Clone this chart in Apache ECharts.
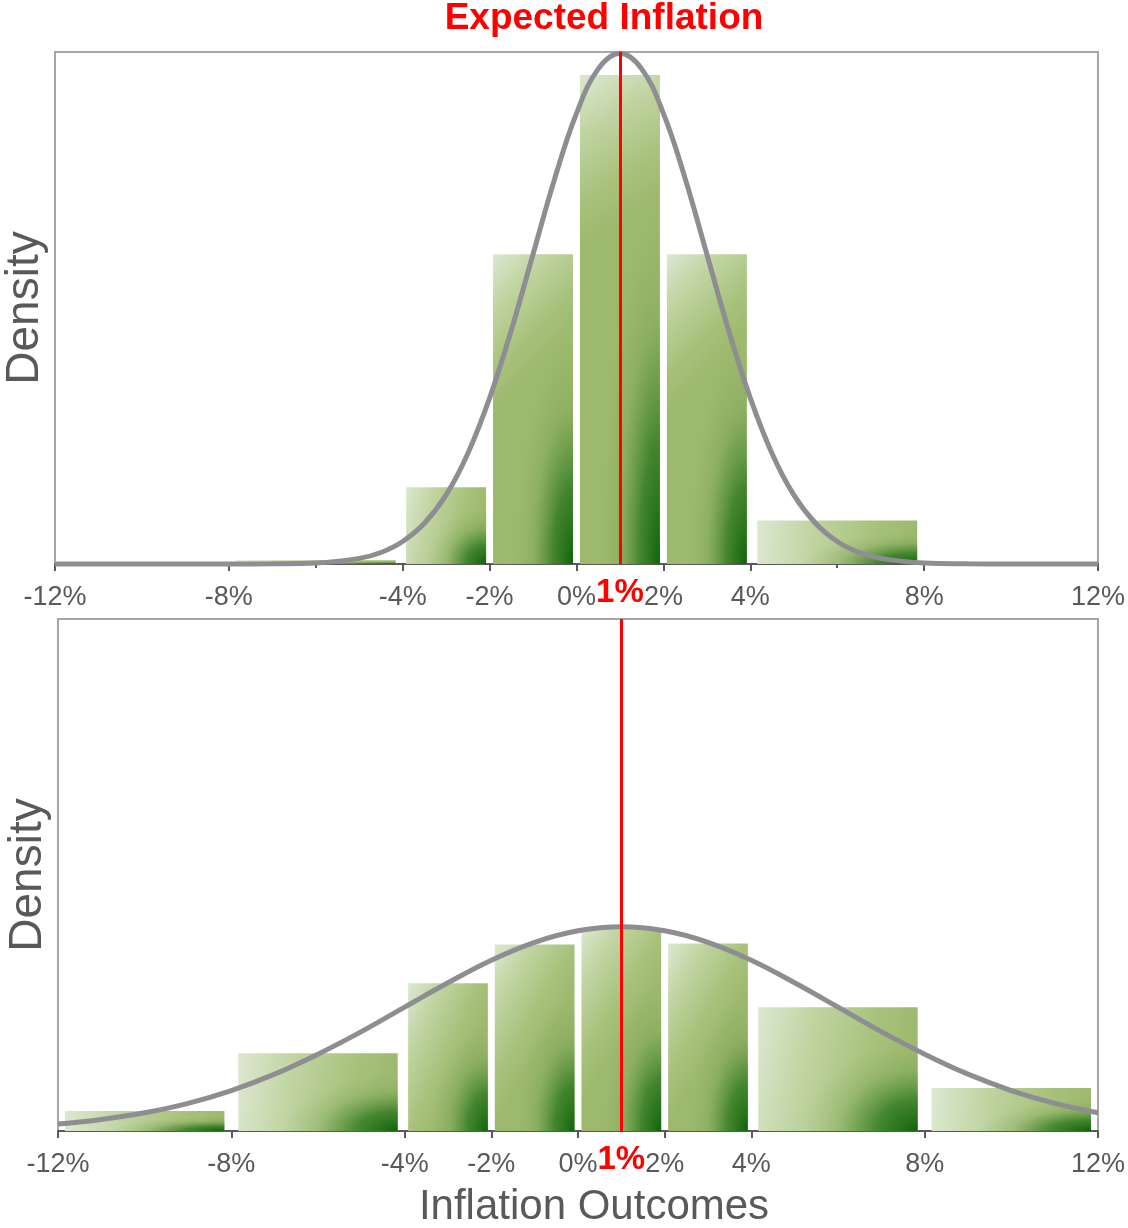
<!DOCTYPE html>
<html>
<head>
<meta charset="utf-8">
<script src="https://cdn.jsdelivr.net/npm/echarts@6/dist/echarts.min.js"></script>
<style>
  html, body { margin: 0; padding: 0; background: #ffffff; }
  #chart { width: 1128px; height: 1228px; }
</style>
</head>
<body>
<div id="chart"></div>
<script>
// Histogram bins (inflation outcome, %)
const binLower = [-12, -8, -4, -2, 0, 2, 4, 8];
const binUpper = [-8, -4, -2, 0, 2, 4, 8, 12];

// Bar densities for the tight (upper) and wide (lower) outcome distributions
const narrowDensity = [0, 0.0015, 0.030, 0.121, 0.191, 0.121, 0.017, 0];
const wideDensity = [0.0078, 0.0304, 0.0577, 0.0729, 0.0793, 0.0732, 0.0483, 0.0168];

// Density curves drawn over the bars
const narrowCurveX = [-12, -10, -8, -7, -6, -5, -4.5, -4, -3.5, -3, -2.5, -2, -1.5, -1, -0.5, 0, 0.5, 1,
                      1.5, 2, 2.5, 3, 3.5, 4, 4.5, 5, 5.5, 6, 6.5, 7, 8, 9, 10, 12];
const narrowCurveY = [0, 0, 0, 0.0001, 0.0004, 0.0022, 0.0045, 0.0088, 0.0159, 0.0270, 0.0432, 0.0648, 0.0913, 0.1210, 0.1506, 0.1760, 0.1934, 0.1995,
                      0.1934, 0.1760, 0.1506, 0.1210, 0.0913, 0.0648, 0.0432, 0.0270, 0.0159, 0.0088, 0.0045, 0.0022, 0.0004, 0.0001, 0, 0];
const wideCurveX = [-12, -11, -10, -9, -8, -7, -6, -5, -4, -3, -2, -1, 0, 1, 2, 3, 4, 5, 6, 7, 8, 9, 10, 11, 12];
const wideCurveY = [0.0027, 0.0045, 0.0071, 0.0108, 0.0158, 0.0222, 0.0300, 0.0388, 0.0484, 0.0579, 0.0667, 0.0737, 0.0782, 0.0798,
                    0.0782, 0.0737, 0.0667, 0.0579, 0.0484, 0.0388, 0.0300, 0.0222, 0.0158, 0.0108, 0.0071];

// Axis ticks
const tickValues = [-12, -8, -4, -2, 0, 2, 4, 8, 12];
const upperMinorTicks = [-6, 6];

// Expected inflation (%)
const expected = 1;

const FONT = '"Liberation Sans", Arial, Helvetica, sans-serif';
const AXIS_GREY = '#595959';
const CURVE_GREY = '#8e8e92';

function barItem(params, api) {
  const d = api.value(2);
  if (!(d > 0)) return null;
  const topLeft = api.coord([api.value(0), d]);
  const bottomRight = api.coord([api.value(1), 0]);
  const inset = (bottomRight[0] - topLeft[0]) * 0.04;
  const x = topLeft[0] + inset;
  const w = bottomRight[0] - topLeft[0] - 2 * inset;
  const y = topLeft[1];
  const h = bottomRight[1] - topLeft[1];
  return {
    type: 'group',
    children: [
      {
        type: 'rect',
        shape: { x: x, y: y, width: w, height: h },
        style: {
          fill: new echarts.graphic.LinearGradient(0, 0, 1, 0.25, [
            { offset: 0, color: '#dce8d0' },
            { offset: 0.35, color: '#c0d4a1' },
            { offset: 0.75, color: '#a7c17a' },
            { offset: 1, color: '#9db96d' }
          ])
        }
      },
      {
        // dark green shading gathered in the lower-right corner
        type: 'rect',
        x: x, y: y, scaleX: w, scaleY: h,
        shape: { x: 0, y: 0, width: 1, height: 1 },
        style: {
          fill: new echarts.graphic.RadialGradient(1, 1, 0.72, [
            { offset: 0, color: 'rgba(16,100,10,1)' },
            { offset: 0.35, color: 'rgba(38,116,26,0.75)' },
            { offset: 0.7, color: 'rgba(80,140,50,0.2)' },
            { offset: 1, color: 'rgba(110,150,70,0)' }
          ])
        }
      }
    ]
  };
}

function xAxisFor(gridIndex, ticks) {
  return {
    gridIndex: gridIndex, type: 'value', min: -12, max: 12, position: 'bottom',
    axisLine: { show: true, onZero: false, lineStyle: { color: AXIS_GREY, width: 2 } },
    axisTick: { show: true, customValues: ticks, length: 7, lineStyle: { color: AXIS_GREY, width: 2 } },
    axisLabel: {
      customValues: tickValues, formatter: v => v + '%',
      color: AXIS_GREY, fontSize: 27, fontFamily: FONT, margin: 20
    },
    splitLine: { show: false }
  };
}

function markFor() {
  return {
    silent: true, symbol: ['none', 'none'], animation: false,
    lineStyle: { color: '#ff0000', width: 3, type: 'solid' },
    label: {
      show: true, position: 'start', distance: 12, formatter: expected + '%',
      color: '#ff0000', fontWeight: 'bold', fontSize: 33, fontFamily: FONT
    },
    emphasis: { disabled: true },
    data: [{ xAxis: expected }]
  };
}

const chart = echarts.init(document.getElementById('chart'), null, { renderer: 'canvas' });

chart.setOption({
  animation: false,
  backgroundColor: '#ffffff',
  grid: [
    { left: 55, right: 30, top: 52, height: 512, show: true, borderColor: '#a6a6a6', borderWidth: 2 },
    { left: 58, right: 26, top: 619, height: 512, show: true, borderColor: '#a6a6a6', borderWidth: 2 }
  ],
  xAxis: [
    xAxisFor(0, tickValues),
    xAxisFor(1, tickValues),
    {
      gridIndex: 0, type: 'value', min: -12, max: 12, position: 'bottom',
      axisLine: { show: false },
      axisTick: { show: true, customValues: upperMinorTicks, length: 4, lineStyle: { color: AXIS_GREY, width: 2 } },
      axisLabel: { show: false },
      splitLine: { show: false }
    }
  ],
  yAxis: [
    { gridIndex: 0, type: 'value', min: 0, max: 0.2, show: false },
    { gridIndex: 1, type: 'value', min: 0, max: 0.2, show: false }
  ],
  series: [
    {
      type: 'custom', xAxisIndex: 0, yAxisIndex: 0,
      renderItem: barItem, encode: { x: [0, 1], y: 2 },
      data: binLower.map((lo, i) => [lo, binUpper[i], narrowDensity[i]])
    },
    {
      type: 'line', xAxisIndex: 0, yAxisIndex: 0, z: 3,
      smooth: 0.4, showSymbol: false, clip: false,
      lineStyle: { color: CURVE_GREY, width: 5 },
      data: narrowCurveX.map((x, i) => [x, narrowCurveY[i]]),
      markLine: markFor()
    },
    {
      type: 'custom', xAxisIndex: 1, yAxisIndex: 1,
      renderItem: barItem, encode: { x: [0, 1], y: 2 },
      data: binLower.map((lo, i) => [lo, binUpper[i], wideDensity[i]])
    },
    {
      type: 'line', xAxisIndex: 1, yAxisIndex: 1, z: 3,
      smooth: 0.4, showSymbol: false, clip: false,
      lineStyle: { color: CURVE_GREY, width: 5 },
      data: wideCurveX.map((x, i) => [x, wideCurveY[i]]),
      markLine: markFor()
    }
  ],
  graphic: [
    {
      type: 'text', x: 604, y: 19,
      style: { text: 'Expected Inflation', font: 'bold 37px ' + FONT, fill: '#ff0000', textAlign: 'center', textVerticalAlign: 'middle' }
    },
    {
      type: 'text', x: 25, y: 308, rotation: Math.PI / 2,
      style: { text: 'Density', font: '46px ' + FONT, fill: AXIS_GREY, textAlign: 'center', textVerticalAlign: 'middle' }
    },
    {
      type: 'text', x: 28, y: 875, rotation: Math.PI / 2,
      style: { text: 'Density', font: '46px ' + FONT, fill: AXIS_GREY, textAlign: 'center', textVerticalAlign: 'middle' }
    },
    {
      type: 'text', x: 594, y: 1207,
      style: { text: 'Inflation Outcomes', font: '42px ' + FONT, fill: AXIS_GREY, textAlign: 'center', textVerticalAlign: 'middle' }
    }
  ]
});
</script>
</body>
</html>
